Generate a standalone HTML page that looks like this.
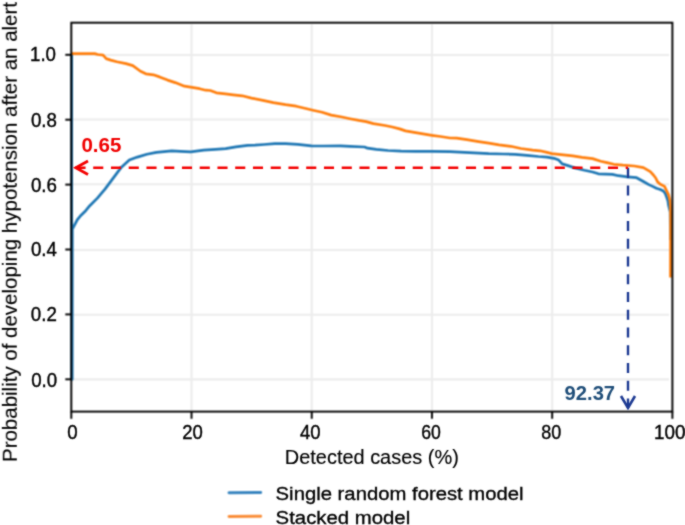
<!DOCTYPE html>
<html><head><meta charset="utf-8"><style>
html,body{margin:0;padding:0;background:#fff;}
body{width:685px;height:525px;overflow:hidden;}
svg{display:block;}
text{font-family:"Liberation Sans",sans-serif;}
</style></head><body>
<svg width="685" height="525" viewBox="0 0 685 525">
<defs><filter id="b" color-interpolation-filters="sRGB" filterUnits="userSpaceOnUse" x="0" y="0" width="685" height="525"><feConvolveMatrix order="3" kernelMatrix="1 2 1 2 4 2 1 2 1" edgeMode="duplicate"/></filter><filter id="t" color-interpolation-filters="sRGB" filterUnits="userSpaceOnUse" x="0" y="0" width="685" height="525"><feConvolveMatrix order="3" kernelMatrix="1 2 1 2 12 2 1 2 1" edgeMode="duplicate"/></filter></defs>
<g filter="url(#b)">
<rect width="685" height="525" fill="#fff"/>
<g stroke="#ececec" stroke-width="2.1"><line x1="191.52" y1="24.20" x2="191.52" y2="410.60"/><line x1="311.74" y1="24.20" x2="311.74" y2="410.60"/><line x1="431.96" y1="24.20" x2="431.96" y2="410.60"/><line x1="552.18" y1="24.20" x2="552.18" y2="410.60"/><line x1="72.30" y1="55.00" x2="669" y2="55.00"/><line x1="72.30" y1="119.50" x2="669" y2="119.50"/><line x1="72.30" y1="184.30" x2="669" y2="184.30"/><line x1="72.30" y1="250.00" x2="669" y2="250.00"/><line x1="72.30" y1="314.80" x2="669" y2="314.80"/><line x1="72.30" y1="379.40" x2="669" y2="379.40"/></g>
<polyline fill="none" stroke="#1f77b4" stroke-width="2.7" stroke-linejoin="round" points="71.7,54.8 71.7,379.3 72.2,379.3 72.3,229 73.4,227.2 77.4,219.6 81.1,215.2 85.7,210.7 89.8,205.7 97.4,198.1 105,189.1 113.2,178.1 121.2,167.4 129.3,160 137.4,157.1 146.9,154.3 156.4,152.4 171.7,150.9 180.4,151.3 190.7,151.9 203.8,150.1 215.5,149.3 225.7,148.7 235.9,146.8 247.6,145.3 255,145.2 264.1,144.5 274.8,143.7 285.5,143.7 297.7,144.3 311.4,145.9 323.6,146 340.4,145.9 350,146.4 364.6,147 367.5,148.2 376.3,149.3 388,150.5 401.1,151.1 415.7,151.4 431.8,151.4 450,151.6 459.6,152.1 474.2,152.8 488.8,153.6 503.4,154 515.1,154.3 526.8,155.3 538.4,156.5 547,157.1 554,158.3 558.7,160.1 562.2,163.9 568,165.6 575,168 584.4,170.3 592.6,172 598.4,173.8 605.4,174.1 612.4,174.4 618.3,175.7 627.4,176.9 636.6,177.7 643.4,181.5 648.8,184.6 652.6,186.4 656.4,188.3 660.3,189.5 663.3,191 665.2,193.3 666.4,196.4 667.9,200.9 668.6,205.5 670.2,212 670.5,240"/>
<polyline fill="none" stroke="#ff7f0e" stroke-width="2.7" stroke-linejoin="round" points="71.9,53.6 94.7,53.6 97.8,54.5 103.1,55.2 106.2,58.6 110.7,60.1 116.8,61.8 126,63.6 132.8,65.6 140.5,71.25 145.8,73.8 153.4,74.8 159.5,76.9 167.6,80.1 175.2,82.6 184.4,86.2 192,87.4 199.6,88.7 205.7,90.2 210.3,90.5 216.4,92.8 225.5,93.8 233.2,94.8 242.3,95.8 251.5,98.1 264.1,100.6 273.3,102.6 285.5,104.7 296.2,106.2 306.8,108.7 312.9,110.2 322.1,112.3 331.2,115.1 341.9,117 350,118.7 358.8,120.4 366.1,121.6 373.4,123.6 385,125.5 392.3,127 399.6,128.9 405.5,130.9 414.2,132.4 423,133.9 431.8,135.3 440.5,136.5 450,138 456.7,138.2 466.9,139.7 478.6,141.6 488.8,143.1 499,144.8 510.7,146.3 520.9,148.5 532.6,150.2 540,150.8 547,152.4 551.7,153.6 563.4,154.8 572.7,155.9 582,157.4 592.6,158.6 600.7,161.2 606.9,162.6 613.7,164.3 622.9,165.2 634.3,166 643.4,167.7 650.3,171.7 653.4,175 655.7,178 657.6,181.9 660.3,184.2 664.5,186.4 666.4,190.3 668.6,194.8 669.9,200.2 670.4,207 670.6,215 670.5,277.4"/>
<rect x="71.3" y="22.7" width="601.1" height="388.9" fill="none" stroke="#000" stroke-width="1.9"/>
<g stroke="#000" stroke-width="1.9"><line x1="71.30" y1="411.60" x2="71.30" y2="418.80"/><line x1="191.52" y1="411.60" x2="191.52" y2="418.80"/><line x1="311.74" y1="411.60" x2="311.74" y2="418.80"/><line x1="431.96" y1="411.60" x2="431.96" y2="418.80"/><line x1="552.18" y1="411.60" x2="552.18" y2="418.80"/><line x1="672.40" y1="411.60" x2="672.40" y2="418.80"/><line x1="65.30" y1="379.30" x2="71.30" y2="379.30"/><line x1="65.30" y1="314.40" x2="71.30" y2="314.40"/><line x1="65.30" y1="249.50" x2="71.30" y2="249.50"/><line x1="65.30" y1="184.60" x2="71.30" y2="184.60"/><line x1="65.30" y1="119.70" x2="71.30" y2="119.70"/><line x1="65.30" y1="54.80" x2="71.30" y2="54.80"/></g>
<line x1="229" y1="492.7" x2="260.7" y2="492.6" stroke="#3a86c0" stroke-width="3" stroke-linecap="round"/>
<line x1="229" y1="516.4" x2="260.7" y2="516.3" stroke="#fa8e3a" stroke-width="3" stroke-linecap="round"/>
</g>
<g filter="url(#t)">
<line x1="628" y1="167.7" x2="628" y2="408" stroke="#1d3a92" stroke-width="2.4" stroke-dasharray="10 7.75"/>
<polyline fill="none" stroke="#1d3a92" stroke-width="2.6" stroke-linejoin="miter" stroke-miterlimit="10" points="621,396 628,408 635,396"/>
<line x1="75.45" y1="167.7" x2="628" y2="167.7" stroke="#f40000" stroke-width="2.6" stroke-dasharray="10.1 7.65"/>
<line x1="75.45" y1="167.7" x2="77" y2="167.7" stroke="#f40000" stroke-width="2.6"/>
<polyline fill="none" stroke="#f40000" stroke-width="2.8" stroke-linejoin="miter" stroke-miterlimit="10" points="88,161 75.8,167.7 88,174.4"/>
<g font-size="20" fill="#000" stroke="#000" stroke-width="0.4"><text x="56.0" y="60.70" text-anchor="end" textLength="26.0" lengthAdjust="spacingAndGlyphs">1.0</text><text x="56.9" y="127.00" text-anchor="end" textLength="26.0" lengthAdjust="spacingAndGlyphs">0.8</text><text x="56.9" y="191.60" text-anchor="end" textLength="26.0" lengthAdjust="spacingAndGlyphs">0.6</text><text x="56.9" y="256.30" text-anchor="end" textLength="26.0" lengthAdjust="spacingAndGlyphs">0.4</text><text x="56.8" y="320.80" text-anchor="end" textLength="26.0" lengthAdjust="spacingAndGlyphs">0.2</text><text x="57.2" y="387.00" text-anchor="end" textLength="26.0" lengthAdjust="spacingAndGlyphs">0.0</text><text x="72.55" y="439.0" text-anchor="middle" textLength="10.4" lengthAdjust="spacingAndGlyphs">0</text><text x="192.50" y="439.0" text-anchor="middle" textLength="20.6" lengthAdjust="spacingAndGlyphs">20</text><text x="310.20" y="439.0" text-anchor="middle" textLength="20.6" lengthAdjust="spacingAndGlyphs">40</text><text x="431.00" y="439.0" text-anchor="middle" textLength="19.6" lengthAdjust="spacingAndGlyphs">60</text><text x="551.20" y="439.0" text-anchor="middle" textLength="20.0" lengthAdjust="spacingAndGlyphs">80</text><text x="669.70" y="439.0" text-anchor="middle" textLength="31.4" lengthAdjust="spacingAndGlyphs">100</text></g>
<text x="284.8" y="464.2" font-size="19.5" fill="#000" stroke="#000" stroke-width="0.15" textLength="174" lengthAdjust="spacingAndGlyphs">Detected cases (%)</text>
<text transform="translate(16.8,462) rotate(-90)" font-size="19.6" fill="#000" stroke="#000" stroke-width="0.15" textLength="460" lengthAdjust="spacingAndGlyphs">Probability of developing hypotension after an alert</text>
<text x="81.4" y="151.9" font-size="21" font-weight="bold" fill="#f00000" textLength="40" lengthAdjust="spacingAndGlyphs">0.65</text>
<text x="564.6" y="400.2" font-size="21" font-weight="bold" fill="#1f4e79" textLength="50.5" lengthAdjust="spacingAndGlyphs">92.37</text>
<text x="275.6" y="499.6" font-size="19.2" fill="#000" stroke="#000" stroke-width="0.35" textLength="248" lengthAdjust="spacingAndGlyphs">Single random forest model</text>
<text x="275.6" y="523.6" font-size="19.2" fill="#000" stroke="#000" stroke-width="0.35" textLength="134.6" lengthAdjust="spacingAndGlyphs">Stacked model</text>
</g>
</svg>
</body></html>
